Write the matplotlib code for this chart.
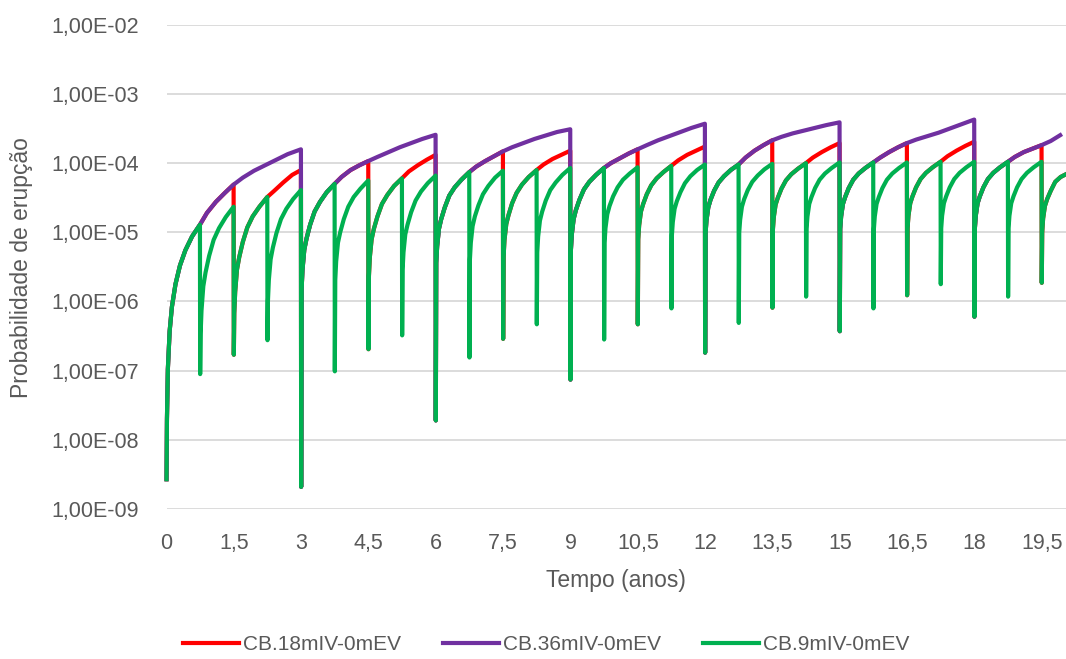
import matplotlib
matplotlib.use("Agg")
import matplotlib.pyplot as plt
from matplotlib.lines import Line2D

# ---------------- data ----------------
# Probabilities are given as log10(probability).
# Each 0.75-year interval of the 9 mIV series is sampled at these times since reset (years)
cycle_tau = [0.0, 0.01, 0.03, 0.07, 0.12, 0.20, 0.30, 0.42, 0.57, 0.745]

green_starts = [0.0, 0.75, 1.5, 2.25, 3.0, 3.75, 4.5, 5.25, 6.0, 6.75, 7.5, 8.25, 9.0,
                9.75, 10.5, 11.25, 12.0, 12.75, 13.5, 14.25, 15.0, 15.75, 16.5, 17.25,
                18.0, 18.75, 19.5]
green_log10 = [
    [-8.60, -7.70, -6.98, -6.43, -6.08, -5.75, -5.48, -5.26, -5.06, -4.89],
    [-7.05, -6.47, -6.13, -5.78, -5.58, -5.34, -5.11, -4.94, -4.78, -4.63],
    [-6.77, -6.17, -5.86, -5.54, -5.36, -5.14, -4.93, -4.77, -4.63, -4.49],
    [-6.56, -5.99, -5.69, -5.39, -5.22, -5.01, -4.81, -4.66, -4.52, -4.39],
    [-8.68, -5.82, -5.54, -5.25, -5.09, -4.89, -4.70, -4.56, -4.42, -4.30],
    [-7.01, -5.69, -5.42, -5.15, -5.00, -4.81, -4.63, -4.49, -4.37, -4.25],
    [-6.69, -5.63, -5.36, -5.10, -4.95, -4.77, -4.59, -4.46, -4.33, -4.22],
    [-6.49, -5.54, -5.29, -5.03, -4.89, -4.71, -4.54, -4.41, -4.29, -4.18],
    [-7.72, -5.44, -5.20, -4.95, -4.81, -4.64, -4.47, -4.35, -4.24, -4.13],
    [-6.81, -5.39, -5.15, -4.91, -4.77, -4.61, -4.45, -4.33, -4.21, -4.11],
    [-6.54, -5.35, -5.11, -4.88, -4.75, -4.58, -4.43, -4.31, -4.20, -4.10],
    [-6.33, -5.29, -5.06, -4.83, -4.70, -4.54, -4.39, -4.28, -4.17, -4.07],
    [-7.13, -5.25, -5.03, -4.81, -4.68, -4.53, -4.38, -4.27, -4.17, -4.07],
    [-6.55, -5.15, -4.94, -4.74, -4.62, -4.48, -4.35, -4.24, -4.15, -4.06],
    [-6.33, -5.10, -4.90, -4.70, -4.59, -4.45, -4.32, -4.22, -4.13, -4.04],
    [-6.10, -5.04, -4.85, -4.66, -4.55, -4.42, -4.29, -4.19, -4.10, -4.02],
    [-6.74, -5.01, -4.83, -4.64, -4.53, -4.40, -4.28, -4.19, -4.10, -4.02],
    [-6.31, -5.00, -4.82, -4.63, -4.52, -4.39, -4.27, -4.18, -4.09, -4.01],
    [-6.09, -4.96, -4.78, -4.60, -4.50, -4.37, -4.25, -4.16, -4.08, -4.00],
    [-5.93, -4.95, -4.77, -4.59, -4.49, -4.36, -4.24, -4.15, -4.07, -3.99],
    [-6.43, -4.95, -4.77, -4.59, -4.49, -4.36, -4.24, -4.15, -4.07, -3.99],
    [-6.10, -4.95, -4.77, -4.59, -4.49, -4.36, -4.24, -4.15, -4.07, -3.99],
    [-5.91, -4.94, -4.76, -4.58, -4.48, -4.35, -4.23, -4.14, -4.06, -3.98],
    [-5.75, -4.94, -4.76, -4.58, -4.48, -4.35, -4.23, -4.14, -4.06, -3.98],
    [-6.22, -4.94, -4.76, -4.58, -4.48, -4.35, -4.23, -4.14, -4.06, -3.98],
    [-5.93, -4.94, -4.76, -4.58, -4.48, -4.35, -4.23, -4.14, -4.06, -3.98],
    [-5.73, -5.00, -4.80, -4.62, -4.52, -4.40, -4.27, -4.20, -4.15],
]

# 18 mIV series: resets every 1.5 years; beyond 0.75 years it continues with these points
red_starts = [0.0, 1.5, 3.0, 4.5, 6.0, 7.5, 9.0, 10.5, 12.0, 13.5, 15.0, 16.5, 18.0, 19.5]
red_tail_tau = [0.90, 1.10, 1.30, 1.495]
red_tail_log10 = [
    [-4.72, -4.56, -4.43, -4.31],
    [-4.40, -4.28, -4.17, -4.10],
    [-4.20, -4.10, -4.03, -3.97],
    [-4.12, -4.03, -3.95, -3.88],
    [-4.05, -3.97, -3.90, -3.83],
    [-4.02, -3.94, -3.88, -3.82],
    [-4.00, -3.93, -3.86, -3.80],
    [-3.96, -3.88, -3.82, -3.76],
    [-3.92, -3.82, -3.74, -3.67],
    [-3.92, -3.84, -3.77, -3.71],
    [-3.92, -3.84, -3.77, -3.71],
    [-3.90, -3.82, -3.75, -3.69],
    [-3.91, -3.84, -3.79, -3.74],
]

# 36 mIV series: resets every 3 years; beyond 1.5 years it continues with these points
purple_starts = [0.0, 3.0, 6.0, 9.0, 12.0, 15.0, 18.0]
purple_tail_tau = [1.70, 1.95, 2.20, 2.45, 2.70, 2.995]
purple_tail_log10 = [
    [-4.21, -4.11, -4.03, -3.95, -3.87, -3.80],
    [-3.91, -3.84, -3.77, -3.71, -3.65, -3.59],
    [-3.77, -3.71, -3.65, -3.60, -3.55, -3.51],
    [-3.74, -3.67, -3.61, -3.55, -3.49, -3.43],
    [-3.62, -3.57, -3.53, -3.49, -3.45, -3.41],
    [-3.66, -3.61, -3.56, -3.50, -3.44, -3.37],
    [-3.68, -3.58],
]

series_labels = ["CB.18mIV-0mEV", "CB.36mIV-0mEV", "CB.9mIV-0mEV"]
y_tick_values = [1e-9, 1e-8, 1e-7, 1e-6, 1e-5, 1e-4, 1e-3, 1e-2]
y_tick_labels = ["1,00E-09", "1,00E-08", "1,00E-07", "1,00E-06",
                 "1,00E-05", "1,00E-04", "1,00E-03", "1,00E-02"]
x_tick_values = [0, 1.5, 3, 4.5, 6, 7.5, 9, 10.5, 12, 13.5, 15, 16.5, 18, 19.5]
x_tick_labels = ["0", "1,5", "3", "4,5", "6", "7,5", "9", "10,5", "12", "13,5",
                 "15", "16,5", "18", "19,5"]


# ---------------- assemble the series ----------------
def add_points(ts, ys, start, taus, vals):
    for tau, v in zip(taus, vals):
        ts.append(start + tau)
        ys.append(10.0 ** v)


green_t, green_p = [], []
for k, s in enumerate(green_starts):
    add_points(green_t, green_p, s, cycle_tau, green_log10[k])

red_t, red_p = [], []
for i, s in enumerate(red_starts):
    add_points(red_t, red_p, s, cycle_tau, green_log10[2 * i])
    if i < len(red_tail_log10):
        add_points(red_t, red_p, s, red_tail_tau, red_tail_log10[i])

purple_t, purple_p = [], []
for i, s in enumerate(purple_starts):
    add_points(purple_t, purple_p, s, cycle_tau, green_log10[4 * i])
    add_points(purple_t, purple_p, s, red_tail_tau, red_tail_log10[2 * i])
    add_points(purple_t, purple_p, s, purple_tail_tau, purple_tail_log10[i])

# ---------------- plot ----------------
W, H = 1066, 659
fig = plt.figure(figsize=(W / 100, H / 100), dpi=100)
ax = fig.add_axes([166.5 / W, 1 - 509 / H, 1 - 166.5 / W, (509 - 24.8) / H])

TEXT = "#595959"
FONT = "Liberation Sans"
colors = ["#FF0000", "#7030A0", "#00B050"]
lw = 3.0

for (t, p), c in zip([(red_t, red_p), (purple_t, purple_p), (green_t, green_p)], colors):
    ax.plot(t, p, color=c, lw=lw, solid_joinstyle="round", solid_capstyle="butt",
            clip_on=False, zorder=3)

ax.set_yscale("log")
ax.set_ylim(1e-9, 1e-2)
ax.set_xlim(0, 20.04)
ax.set_yticks(y_tick_values)
ax.set_yticklabels(y_tick_labels)
ax.yaxis.set_minor_locator(plt.NullLocator())
ax.set_xticks(x_tick_values)
ax.set_xticklabels(x_tick_labels)
ax.tick_params(axis="both", length=0, labelcolor=TEXT, labelsize=15.5)
ax.tick_params(axis="y", pad=20)
ax.tick_params(axis="x", pad=17)
for lab in ax.get_xticklabels() + ax.get_yticklabels():
    lab.set_fontfamily(FONT)
for sp in ax.spines.values():
    sp.set_visible(False)
ax.grid(axis="y", which="major", color="#D9D9D9", lw=1.3, zorder=0)
ax.set_axisbelow(True)

fig.text(616 / W, 1 - 581 / H, "Tempo (anos)", ha="center", va="center",
         fontsize=16.5, color=TEXT, family=FONT)
fig.text(22 / W, 1 - 268 / H, "Probabilidade de erupção", ha="center", va="center",
         rotation=90, fontsize=16.5, color=TEXT, family=FONT)

handles = [Line2D([], [], color=c, lw=lw) for c in colors]
fig.legend(handles, series_labels, loc="center", bbox_to_anchor=(546 / W, 1 - 645 / H),
           ncol=3, frameon=False, handlelength=2.7, handletextpad=0.2, columnspacing=2.0,
           prop={"family": FONT, "size": 15}, labelcolor=TEXT)

fig.savefig("out.png", dpi=100)
